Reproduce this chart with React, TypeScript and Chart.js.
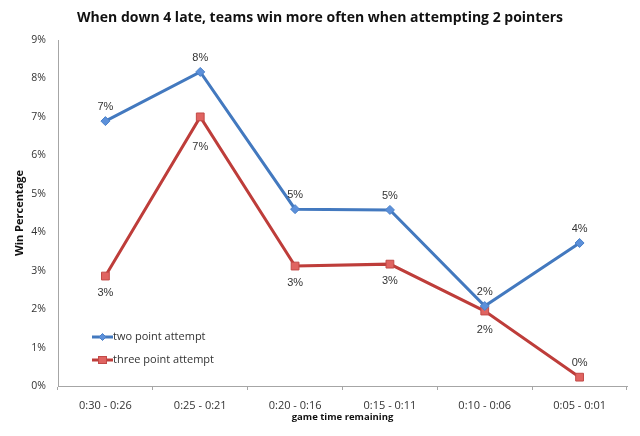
import React, { useEffect, useRef } from "react";
import { Chart, registerables } from "chart.js";

Chart.register(...registerables);

const categories = ["0:30 - 0:26", "0:25 - 0:21", "0:20 - 0:16", "0:15 - 0:11", "0:10 - 0:06", "0:05 - 0:01"];
const twoPoint = [6.89, 8.17, 4.6, 4.58, 2.08, 3.72];
const threePoint = [2.86, 7.0, 3.12, 3.17, 1.95, 0.23];
const yTicks = [0, 1, 2, 3, 4, 5, 6, 7, 8, 9];
const title = "When down 4 late, teams win more often when attempting 2 pointers";
const xTitle = "game time remaining";
const yTitle = "Win Percentage";

const BLUE = "#4379BF";
const RED = "#BE3D3A";

function segHitsBox(ax: number, ay: number, bx: number, by: number, l: number, r: number, t: number, b: number) {
  // sample along segment
  for (let k = 0; k <= 40; k++) {
    const x = ax + ((bx - ax) * k) / 40;
    const y = ay + ((by - ay) * k) / 40;
    if (x >= l && x <= r && y >= t && y <= b) return true;
  }
  return false;
}

const overlay = {
  id: "overlay",
  afterDatasetsDraw(chart: any) {
    const ctx = chart.ctx;
    const area = chart.chartArea;
    ctx.save();
    // data labels
    ctx.font = "11px 'Liberation Sans', Arial, sans-serif";
    ctx.fillStyle = "#333";
    ctx.textAlign = "center";
    ctx.textBaseline = "middle";
    chart.data.datasets.forEach((ds: any, di: number) => {
      const meta = chart.getDatasetMeta(di);
      const pts = meta.data;
      pts.forEach((pt: any, i: number) => {
        const txt = Math.round(ds.data[i]) + "%";
        let y;
        if (di === 0) y = pt.y - 14;
        else {
          y = pt.y + 17;
          if (y > area.bottom - 4) y = pt.y - 14;
          else {
            const hits = (cy: number) => {
              const l = pt.x - 13, r = pt.x + 13, t = cy - 10, b = cy + 8;
              for (let j = Math.max(0, i - 1); j < Math.min(pts.length - 1, i + 1); j++) {
                if (segHitsBox(pts[j].x, pts[j].y, pts[j + 1].x, pts[j + 1].y, l, r, t, b)) return true;
              }
              return false;
            };
            let guard = 0;
            while (hits(y) && guard++ < 60) y += 1;
          }
        }
        ctx.fillText(txt, pt.x, y);
      });
    });
    // legend
    ctx.font = "11px 'Open Sans', sans-serif";
    ctx.textAlign = "left";
    chart.data.datasets.forEach((ds: any, di: number) => {
      const ly = 337 + di * 23;
      const lx = 92;
      ctx.strokeStyle = ds.borderColor;
      ctx.lineWidth = 3;
      ctx.beginPath();
      ctx.moveTo(lx, ly);
      ctx.lineTo(lx + 21, ly);
      ctx.stroke();
      ctx.fillStyle = ds.pointBackgroundColor;
      ctx.strokeStyle = ds.pointBorderColor;
      ctx.lineWidth = 1;
      const cx = lx + 10.5;
      if (di === 0) {
        ctx.beginPath();
        ctx.moveTo(cx, ly - 3.5);
        ctx.lineTo(cx + 3.5, ly);
        ctx.lineTo(cx, ly + 3.5);
        ctx.lineTo(cx - 3.5, ly);
        ctx.closePath();
        ctx.fill();
        ctx.stroke();
      } else {
        ctx.fillRect(cx - 4, ly - 3.5, 8, 7);
        ctx.strokeRect(cx - 4, ly - 3.5, 8, 7);
      }
      ctx.fillStyle = "#333";
      ctx.fillText(ds.label, lx + 21, ly);
    });
    // title
    ctx.textAlign = "center";
    ctx.fillStyle = "#111";
    ctx.font = "bold 14px 'Open Sans', sans-serif";
    ctx.fillText(title, 320, 18);
    // x title
    ctx.font = "bold 9.5px 'Open Sans', sans-serif";
    ctx.fillText(xTitle, (area.left + area.right) / 2, 417);
    // y title
    ctx.font = "bold 11px 'Open Sans', sans-serif";
    ctx.translate(20, (area.top + area.bottom) / 2);
    ctx.rotate(-Math.PI / 2);
    ctx.fillText(yTitle, 0, 0);
    ctx.restore();
  },
};

export default function App() {
  const ref = useRef<HTMLCanvasElement>(null);
  useEffect(() => {
    document.body.style.margin = "0";
    const chart = new Chart(ref.current!, {
      type: "line",
      data: {
        labels: categories,
        datasets: [
          {
            label: "two point attempt",
            data: twoPoint,
            borderColor: BLUE,
            borderWidth: 3,
            pointStyle: "rectRot",
            pointRadius: 4.5,
            pointBackgroundColor: "#5C90DA",
            pointBorderColor: "#4A80C8",
            pointBorderWidth: 1,
            tension: 0,
          },
          {
            label: "three point attempt",
            data: threePoint,
            borderColor: RED,
            borderWidth: 3,
            pointStyle: "rect",
            pointRadius: 5.5,
            pointBackgroundColor: "#E06461",
            pointBorderColor: "#C24A47",
            pointBorderWidth: 1,
            tension: 0,
          },
        ],
      },
      options: {
        animation: false,
        responsive: false,
        layout: { padding: { top: 40, right: 13, left: 0, bottom: 0 } },
        plugins: { legend: { display: false }, tooltip: { enabled: false }, title: { display: false } },
        scales: {
          x: {
            offset: true,
            grid: { display: true, drawOnChartArea: false, drawTicks: true, tickLength: 4, offset: true, color: "#a6a6a6" },
            border: { display: true, color: "#a6a6a6", width: 1 },
            ticks: { color: "#333", font: { family: "'Open Sans', sans-serif", size: 11 }, padding: 9, maxRotation: 0 },
            afterFit: (s: any) => { s.height = 50; },
          },
          y: {
            min: 0,
            max: 9,
            afterBuildTicks: (s: any) => { s.ticks = yTicks.map((v) => ({ value: v })); },
            grid: { display: false, drawTicks: false },
            border: { display: true, color: "#a6a6a6", width: 1 },
            ticks: { color: "#333", font: { family: "'Open Sans', sans-serif", size: 10.5 }, padding: 12, callback: (v: any) => v + "%" },
            afterFit: (s: any) => { s.width = 58; },
          },
        },
      },
      plugins: [overlay],
    });
    return () => chart.destroy();
  }, []);
  return <canvas ref={ref} width={640} height={436} style={{ display: "block" }} />;
}
